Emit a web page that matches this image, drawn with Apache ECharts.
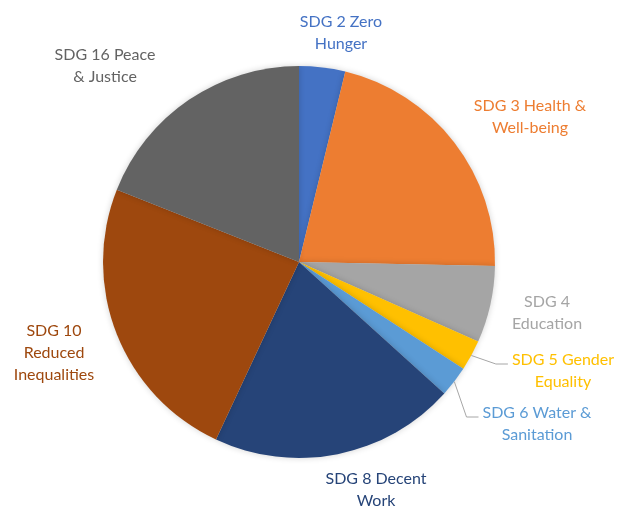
<!DOCTYPE html>
<html>
<head>
<meta charset="utf-8">
<script src="https://cdn.jsdelivr.net/npm/echarts@6/dist/echarts.min.js"></script>
<style>
  html, body { margin: 0; padding: 0; background: #fff; }
  #chart { width: 618px; height: 508px; }
</style>
</head>
<body>
<div id="chart"></div>
<script>
// categories (label text keeps the line breaks seen in the picture)
const categories = [
  'SDG 2 Zero\nHunger',
  'SDG 3 Health &\nWell-being',
  'SDG 4\nEducation',
  'SDG 5 Gender\nEquality',
  'SDG 6 Water &\nSanitation',
  'SDG 8 Decent\nWork',
  'SDG 10\nReduced\nInequalities',
  'SDG 16 Peace\n& Justice'
];
const counts = [3, 17, 5, 2, 2, 16, 19, 15];
const colors = ['#4472C4', '#ED7D31', '#A5A5A5', '#FFC000', '#5B9BD5', '#264478', '#9E480E', '#636363'];

// where each label block is centred
const labelPos = [
  [341, 33], [530, 117], [547, 313], [563, 371],
  [537, 424], [376, 490], [54, 353], [105, 66]
];
const withLeader = [false, false, false, true, true, false, false, false];

const CX = 299, CY = 262, R = 196;
const FONT = '16px Lato';
const total = counts.reduce(function (a, b) { return a + b; }, 0);

var myChart = echarts.init(document.getElementById('chart'));

const data = categories.map(function (name, i) {
  return {
    name: name,
    value: counts[i],
    itemStyle: { color: colors[i] },
    label: { color: colors[i] }
  };
});

// point on the rim at the middle of slice i (clockwise from 12 o'clock)
function rimPoint(i) {
  let before = 0;
  for (let k = 0; k < i; k++) before += counts[k];
  const a = (before + counts[i] / 2) / total * Math.PI * 2;
  return [CX + R * Math.sin(a), CY - R * Math.cos(a)];
}

const ctx = document.createElement('canvas').getContext('2d');
ctx.font = FONT;
function blockWidth(text) {
  return Math.max.apply(null, text.split('\n').map(function (s) { return ctx.measureText(s).width; }));
}

// elbow leader lines: slice rim -> bend -> left side of the label
const leaders = [];
categories.forEach(function (name, i) {
  if (!withLeader[i]) return;
  const p = labelPos[i];
  const endX = p[0] - blockWidth(name) / 2 - 4;
  const endY = p[1] - 7;
  leaders.push({
    type: 'polyline',
    silent: true,
    z: 10,
    shape: { points: [rimPoint(i), [endX - 12, endY], [endX, endY]] },
    style: { stroke: '#A6A6A6', lineWidth: 1, fill: null }
  });
});

myChart.setOption({
  animation: false,
  graphic: leaders,
  series: [
    {
      type: 'pie',
      center: [CX, CY],
      radius: R,
      startAngle: 90,
      clockwise: true,
      data: data,
      itemStyle: {
        shadowBlur: 6,
        shadowColor: 'rgba(0,0,0,0.18)'
      },
      label: {
        show: true,
        position: 'outside',
        formatter: '{b}',
        fontFamily: 'Lato',
        fontSize: 16,
        lineHeight: 22,
        align: 'center',
        overflow: 'none'
      },
      labelLine: { show: false },
      labelLayout: function (params) {
        const p = labelPos[params.dataIndex];
        return { x: p[0], y: p[1], align: 'center', verticalAlign: 'middle' };
      }
    }
  ]
});
</script>
</body>
</html>
